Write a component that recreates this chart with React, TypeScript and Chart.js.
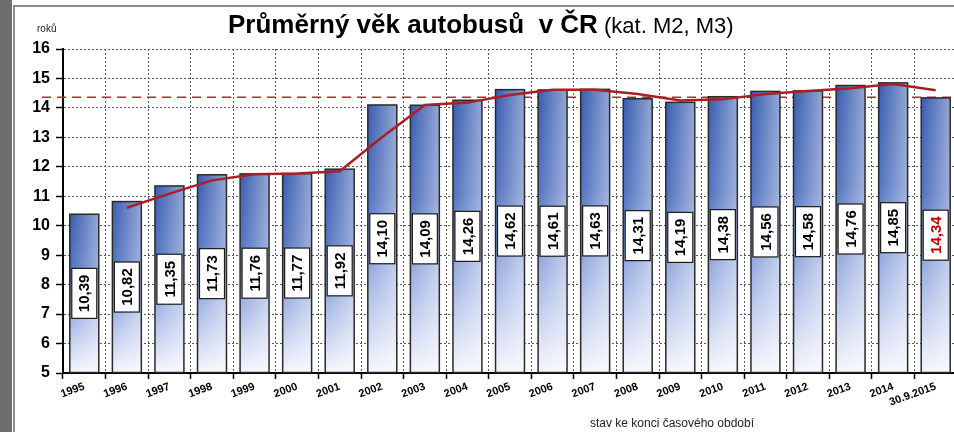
import React, { useEffect, useRef } from 'react';
import { Chart, registerables } from 'chart.js';

Chart.register(...registerables);

const FONT = '"Liberation Sans", Arial, Helvetica, sans-serif';

const categories = [
  '1995', '1996', '1997', '1998', '1999', '2000', '2001', '2002', '2003', '2004',
  '2005', '2006', '2007', '2008', '2009', '2010', '2011', '2012', '2013', '2014', '30.9.2015',
];
const averageAge = [
  10.39, 10.82, 11.35, 11.73, 11.76, 11.77, 11.92, 14.1, 14.09, 14.26,
  14.62, 14.61, 14.63, 14.31, 14.19, 14.38, 14.56, 14.58, 14.76, 14.85, 14.34,
];
const trendLine = [
  null, 10.61, 11.09, 11.54, 11.75, 11.77, 11.85, 13.01, 14.1, 14.18,
  14.44, 14.62, 14.62, 14.47, 14.25, 14.29, 14.47, 14.57, 14.67, 14.81, 14.6,
];
const valueLabels = [
  '10,39', '10,82', '11,35', '11,73', '11,76', '11,77', '11,92', '14,10', '14,09', '14,26',
  '14,62', '14,61', '14,63', '14,31', '14,19', '14,38', '14,56', '14,58', '14,76', '14,85', '14,34',
];
const referenceLevel = 14.36;
const yMin = 5;
const yMax = 16;

const titleBold = 'Průměrný věk autobusů  v ČR';
const titleNormal = ' (kat. M2, M3)';
const unitLabel = 'roků';
const footerLabel = 'stav ke konci časového období';

const decorPlugin = {
  id: 'decor',
  beforeDraw(chart: any) {
    const ctx = chart.ctx;
    ctx.save();
    ctx.fillStyle = '#ffffff';
    ctx.fillRect(0, 0, chart.width, chart.height);
    ctx.fillStyle = '#6e6e6e';
    ctx.fillRect(0, 0, 12, chart.height);
    ctx.fillStyle = '#8c8c8c';
    ctx.fillRect(13, 5, chart.width, 2);
    ctx.fillRect(13, 5, 2, chart.height);

    // title
    ctx.textBaseline = 'alphabetic';
    ctx.textAlign = 'left';
    ctx.fillStyle = '#000';
    ctx.font = `bold 26px ${FONT}`;
    const x0 = 228;
    ctx.fillText(titleBold, x0, 33);
    const w = ctx.measureText(titleBold).width;
    ctx.font = `22px ${FONT}`;
    ctx.fillText(titleNormal, x0 + w, 33);

    ctx.font = `10px ${FONT}`;
    ctx.fillStyle = '#222';
    ctx.fillText(unitLabel, 37, 32);

    ctx.font = `12px ${FONT}`;
    ctx.textAlign = 'center';
    ctx.fillText(footerLabel, 672, 427);
    ctx.restore();
  },
  beforeDatasetsDraw(chart: any) {
    const ctx = chart.ctx;
    const y = chart.scales.y.getPixelForValue(referenceLevel);
    ctx.save();
    ctx.strokeStyle = '#c0272d';
    ctx.lineWidth = 1.6;
    ctx.setLineDash([9, 6]);
    ctx.beginPath();
    ctx.moveTo(42, y);
    ctx.lineTo(chart.chartArea.right, y);
    ctx.stroke();
    ctx.restore();
  },
  afterDatasetDraw(chart: any, args: any) {
    if (args.index !== 0) return;
    const ctx = chart.ctx;
    const meta = chart.getDatasetMeta(0);
    ctx.save();
    meta.data.forEach((bar: any) => {
      const left = bar.x - bar.width / 2;
      const right = bar.x + bar.width / 2;
      const g = ctx.createLinearGradient(left, 0, right, 0);
      g.addColorStop(0, 'rgba(255,255,255,0)');
      g.addColorStop(1, 'rgba(255,255,255,0.45)');
      ctx.fillStyle = g;
      ctx.fillRect(left, bar.y, bar.width, bar.base - bar.y);
      ctx.strokeStyle = '#2a2a2a';
      ctx.lineWidth = 1.5;
      ctx.strokeRect(left, bar.y, bar.width, bar.base - bar.y);
    });
    ctx.restore();
  },
  afterDatasetsDraw(chart: any) {
    const ctx = chart.ctx;
    const meta = chart.getDatasetMeta(0);
    ctx.save();
    meta.data.forEach((bar: any, i: number) => {
      const cy = (bar.y + bar.base) / 2;
      const bw = 25;
      const bh = 50;
      ctx.fillStyle = '#ffffff';
      ctx.fillRect(bar.x - bw / 2, cy - bh / 2, bw, bh);
      ctx.strokeStyle = '#1a1a1a';
      ctx.lineWidth = 1.2;
      ctx.strokeRect(bar.x - bw / 2, cy - bh / 2, bw, bh);
      ctx.save();
      ctx.translate(bar.x, cy);
      ctx.rotate(-Math.PI / 2);
      ctx.font = `bold 15px ${FONT}`;
      ctx.textAlign = 'center';
      ctx.textBaseline = 'middle';
      ctx.fillStyle = i === valueLabels.length - 1 ? '#c00000' : '#000000';
      ctx.fillText(valueLabels[i], 0, 1);
      ctx.restore();
    });
    ctx.restore();
  },
};

export default function App() {
  const canvasRef = useRef<HTMLCanvasElement | null>(null);

  useEffect(() => {
    const canvas = canvasRef.current;
    if (!canvas) return;
    const chart = new Chart(canvas, {
      type: 'bar',
      data: {
        labels: categories,
        datasets: [
          {
            type: 'bar',
            data: averageAge,
            base: yMin,
            order: 2,
            barPercentage: 0.68,
            categoryPercentage: 1,
            borderWidth: 0,
            backgroundColor: (c: any) => {
              const ch = c.chart;
              const area = ch.chartArea;
              if (!area || c.raw == null) return '#5a7ac4';
              const top = ch.scales.y.getPixelForValue(c.raw);
              const bottom = ch.scales.y.getPixelForValue(yMin);
              const g = ch.ctx.createLinearGradient(0, top, 0, bottom);
              g.addColorStop(0, '#395cb0');
              g.addColorStop(0.35, '#5172c0');
              g.addColorStop(0.68, '#a6b8e5');
              g.addColorStop(1, '#f6f7fd');
              return g;
            },
          } as any,
          {
            type: 'line',
            data: trendLine,
            order: 1,
            borderColor: '#aa1e25',
            borderWidth: 2.5,
            pointRadius: 0,
            tension: 0,
            spanGaps: false,
          } as any,
        ],
      },
      options: {
        responsive: false,
        animation: false,
        devicePixelRatio: 1,
        layout: { padding: { top: 49, right: 3, left: 0, bottom: 0 } },
        plugins: {
          legend: { display: false },
          title: { display: false },
          tooltip: { enabled: false },
        },
        scales: {
          x: {
            afterFit: (s: any) => {
              s.height = 59;
            },
            grid: {
              color: '#5a5a5a',
              lineWidth: 1,
              offset: true,
              drawTicks: true,
              tickLength: 6,
              tickColor: '#000',
              tickWidth: 1.5,
              tickBorderDash: [],
            } as any,
            border: { color: '#000', width: 2, dash: [2, 2] } as any,
            ticks: {
              autoSkip: false,
              minRotation: 20,
              maxRotation: 20,
              padding: 1,
              color: '#000',
              font: { family: FONT, size: 11, weight: 'bold' },
            },
          },
          y: {
            min: yMin,
            max: yMax,
            afterFit: (s: any) => {
              s.width = 63;
            },
            grid: {
              color: '#5a5a5a',
              lineWidth: 1,
              tickLength: 7,
              tickColor: '#000',
              tickWidth: 1.5,
              tickBorderDash: [],
            } as any,
            border: { color: '#000', width: 2, dash: [2, 2] } as any,
            ticks: {
              stepSize: 1,
              padding: 6,
              color: '#000',
              font: { family: FONT, size: 16, weight: 'bold' },
            },
          },
        },
      },
      plugins: [decorPlugin],
    });
    return () => chart.destroy();
  }, []);

  return (
    <div
      style={{
        position: 'fixed',
        left: 0,
        top: 0,
        width: 954,
        height: 432,
        overflow: 'hidden',
        background: '#fff',
      }}
    >
      <canvas ref={canvasRef} width={960} height={432} style={{ width: 960, height: 432, display: 'block' }} />
    </div>
  );
}
